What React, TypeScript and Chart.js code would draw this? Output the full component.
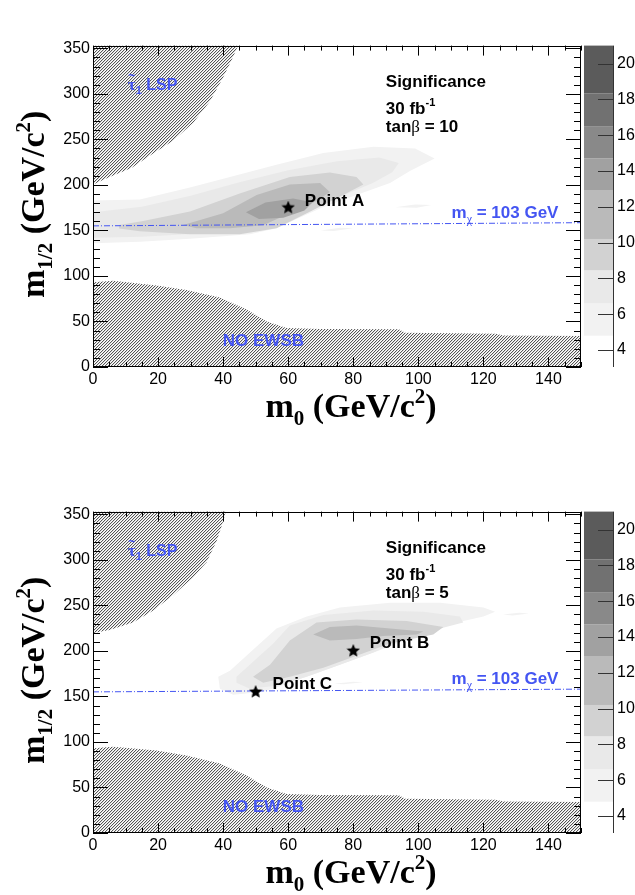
import React, { useEffect, useRef } from "react";
import { Chart, registerables } from "chart.js";

Chart.register(...registerables);

type Pt = [number, number];

// ---------- axes ----------
const m0Min = 0;
const m0Max = 150;
const m12Min = 0;
const m12Max = 353;
const zMin = 3.05;
const zMax = 21;
const m0LabelStep = 20;
const m0MinorStep = 5;
const m12LabelStep = 50;
const m12MinorStep = 10;
const zLabelStep = 2;

// ---------- significance colour scale ----------
const zLevels = [4.8, 6.6, 8.45, 10.2, 12.9, 14.7, 16.5, 18.33, 21];
const zColors = ["#f2f2f2", "#e9e9e9", "#d2d2d2", "#bababa", "#a1a1a1", "#898989", "#717171", "#5b5b5b"];

// ---------- panel 1 : tanβ = 10 ----------
const p1Sig1: Pt[] = [[0, 136], [14.4, 137.6], [29.8, 140.9], [48.2, 145.9], [56.4, 152.5], [62.6, 162.5], [70.8, 175.7], [81, 188.9], [91.3, 202.2], [97.4, 215.4], [105, 229], [99, 240], [86.2, 242], [70.8, 235], [56.4, 222], [42.1, 208.7], [29.8, 197.2], [14.4, 184], [0, 183]];
const p1Sig2: Pt[] = [[0, 142], [15, 143], [30, 146], [45, 149], [55, 156], [62, 166], [70, 178], [78, 190], [86, 202], [92, 214], [94, 224], [88, 230], [75, 226], [60, 216], [45, 203], [30, 188], [15, 176], [0, 170]];
const p1Sig3: Pt[] = [[8, 152], [14.4, 149.2], [29.8, 145.9], [45.1, 145.9], [56.4, 152.5], [65.7, 169], [76.9, 188.9], [83.1, 200.5], [81, 208.7], [72.8, 213.7], [60.5, 208.7], [45.1, 190.6], [29.8, 170.7], [15, 160], [8, 156]];
const p1Sig4: Pt[] = [[27.7, 156], [40, 169], [50.3, 188.9], [60.5, 200.5], [69.8, 202.2], [72.8, 192.2], [68.7, 182.3], [60.5, 169], [52.3, 155.8], [42.1, 152.5], [31.8, 152.5]];
const p1Sig5: Pt[] = [[47, 170], [53, 180.6], [61.5, 185], [67.5, 181], [65, 172], [58.5, 164], [51, 162.5]];
const p1FragA: Pt[] = [[93, 175.5], [99, 178.5], [104, 178], [99.5, 175]];
const p1FragB: Pt[] = [[70, 150], [76, 153], [80, 152.5], [74, 149.5]];
const p1Stau: Pt[] = [[0, 200.5], [5.1, 208.7], [11.8, 218.6], [17.4, 231.9], [24.6, 248.4], [30.8, 268.3], [35.9, 291.5], [40, 317.9], [43.1, 341], [44.6, 353], [0, 353]];
const p1Ewsb: Pt[] = [[0, 93], [6.2, 94.6], [19.5, 89.6], [28.7, 84.7], [39, 76.4], [47.2, 63.2], [53.4, 49.9], [59.5, 42.7], [69.8, 41.7], [94, 41.5], [96, 37.5], [124, 36.5], [126, 34.5], [150, 34], [150, 0], [0, 0]];
const p1Line: Pt[] = [[0, 155], [150, 158.5]];
const p1Stars: Pt[] = [[60, 175]];
const p1StarNames = ["Point A"];
const p1StarLabelAt: Pt[] = [[65.1, 183.7]];

// ---------- panel 2 : tanβ = 5 ----------
const p2Sig1: Pt[] = [[38.5, 171.7], [42.1, 178.3], [50.3, 204.7], [56.4, 224.6], [65.7, 237.9], [75.9, 247.8], [91.3, 252.8], [106.7, 252.8], [120, 247.8], [123.6, 242.9], [120, 237.9], [111.8, 231.2], [101.5, 221.3], [91.3, 204.7], [81, 191.5], [70.8, 178.3], [60.5, 165], [52.3, 155.1], [43.1, 151.8], [39, 158.5]];
const p2Sig2: Pt[] = [[44.1, 171.7], [55.4, 208.1], [60.5, 228], [70.8, 239.5], [86.2, 244.4], [101.5, 242.9], [112.8, 237.9], [113.8, 231.2], [106.7, 224.6], [96.4, 214.7], [86.2, 198.2], [75.9, 184.9], [65.7, 171.7], [56.4, 161.8], [48.2, 158.5], [44.1, 165]];
const p2Sig3: Pt[] = [[49.2, 171.7], [54.4, 184.9], [60.5, 211.4], [68.7, 231.2], [81, 234.5], [96.4, 232.9], [107.7, 226.3], [104.6, 218], [91.3, 208.1], [81, 194.8], [70.8, 181.6], [60.5, 171.7], [52.3, 165]];
const p2Sig4: Pt[] = [[67.7, 218], [72.8, 226.3], [81, 228], [91.3, 224.6], [101.5, 221.3], [99.5, 218], [89.2, 216.4], [81, 213.1], [72.8, 211.4]];
const p2FragA: Pt[] = [[126, 240], [131, 242], [134, 241], [129, 239]];
const p2FragB: Pt[] = [[74, 164], [80, 166], [83, 165.5], [77, 163.5]];
const p2Stau: Pt[] = [[0, 219.6], [5.1, 223], [12.3, 231.2], [18.5, 244.4], [24.6, 261], [30.8, 280.9], [34.9, 297.4], [38, 320.6], [40, 342], [40.8, 353], [0, 353]];
const p2Ewsb: Pt[] = [[0, 93], [6.2, 94.6], [19.5, 90.5], [28.7, 85], [39, 76.4], [47.2, 63.2], [53.4, 49.9], [59.5, 42.7], [69.8, 41.7], [94, 41.5], [96, 37.5], [124, 36.5], [126, 34.5], [150, 34], [150, 0], [0, 0]];
const p2Line: Pt[] = [[0, 155], [150, 158]];
const p2Stars: Pt[] = [[80, 200], [50, 155]];
const p2StarNames = ["Point B", "Point C"];
const p2StarLabelAt: Pt[] = [[85.1, 209.5], [55.2, 164.9]];

// ---------- text anchors (data coordinates: left edge, vertical centre) ----------
const infoM0 = 90;
const infoM12 = [314.3, 284.6, 264.7];
const lspAt: Pt = [10.7, 311];
const ewsbAt: Pt = [39.9, 30];
const mchiAt: Pt = [110.2, 170.5];

const SANS = '"Liberation Sans", Arial, Helvetica, sans-serif';
const SERIF = '"Liberation Serif", "Times New Roman", Times, serif';
const BLUE = "#4455f2";
const CANVAS_W = 635;
const CANVAS_H = 440;
const PANEL_OFFSET = 466;

interface PanelSpec {
  sig: Pt[][];
  frags: Pt[][];
  stau: Pt[];
  ewsb: Pt[];
  line: Pt[];
  stars: Pt[];
  starNames: string[];
  starLabelAt: Pt[];
  tanb: string;
}

const panels: PanelSpec[] = [
  { sig: [p1Sig1, p1Sig2, p1Sig3, p1Sig4, p1Sig5], frags: [p1FragA, p1FragB], stau: p1Stau, ewsb: p1Ewsb, line: p1Line, stars: p1Stars, starNames: p1StarNames, starLabelAt: p1StarLabelAt, tanb: "10" },
  { sig: [p2Sig1, p2Sig2, p2Sig3, p2Sig4], frags: [p2FragA, p2FragB], stau: p2Stau, ewsb: p2Ewsb, line: p2Line, stars: p2Stars, starNames: p2StarNames, starLabelAt: p2StarLabelAt, tanb: "5" },
];

type Seg = { t: string; f: string; dy?: number };

function drawRich(ctx: CanvasRenderingContext2D, segs: Seg[], x: number, y: number, align: "left" | "center") {
  let w = 0;
  for (const s of segs) {
    ctx.font = s.f;
    w += ctx.measureText(s.t).width;
  }
  let cx = align === "center" ? x - w / 2 : x;
  ctx.textAlign = "left";
  ctx.textBaseline = "alphabetic";
  for (const s of segs) {
    ctx.font = s.f;
    ctx.fillText(s.t, cx, y + (s.dy || 0));
    cx += ctx.measureText(s.t).width;
  }
}

function makeHatch(): CanvasPattern | string {
  const c = document.createElement("canvas");
  c.width = 3;
  c.height = 3;
  const g = c.getContext("2d");
  if (!g) return "#bbb";
  g.fillStyle = "#ffffff";
  g.fillRect(0, 0, 3, 3);
  for (let i = 0; i < 3; i++) {
    g.fillStyle = "#555555";
    g.fillRect(i, 2 - i, 1, 1);
    g.fillStyle = "#dcdcdc";
    g.fillRect((i + 1) % 3, 2 - i, 1, 1);
  }
  return g.createPattern(c, "repeat") || "#bbb";
}

function makeStar(): HTMLCanvasElement {
  const c = document.createElement("canvas");
  c.width = 14;
  c.height = 14;
  const g = c.getContext("2d")!;
  g.fillStyle = "#000";
  g.beginPath();
  for (let i = 0; i < 10; i++) {
    const r = i % 2 === 0 ? 7 : 3.2;
    const a = -Math.PI / 2 + (i * Math.PI) / 5;
    const x = 7 + r * Math.cos(a);
    const y = 7 + r * Math.sin(a);
    if (i === 0) g.moveTo(x, y);
    else g.lineTo(x, y);
  }
  g.closePath();
  g.fill();
  return c;
}

const toXY = (pts: Pt[]) => pts.map(([x, y]) => ({ x, y }));

function polygonDataset(pts: Pt[], color: any, order: number) {
  return {
    data: toXY(pts),
    borderColor: "rgba(0,0,0,0)",
    borderWidth: 0,
    backgroundColor: color,
    fill: "shape",
    pointRadius: 0,
    clip: false,
    order,
  };
}

function buildConfig(spec: PanelSpec): any {
  const hatch = makeHatch();
  const star = makeStar();
  const datasets: any[] = [];
  datasets.push({
    data: toXY(spec.stars),
    showLine: false,
    pointStyle: star,
    pointRadius: 7,
    fill: false,
    order: 0,
  });
  datasets.push({
    data: toXY(spec.line),
    borderColor: BLUE,
    borderWidth: 1,
    borderDash: [6, 2, 1, 2],
    pointRadius: 0,
    fill: false,
    order: 1,
  });
  datasets.push(polygonDataset(spec.stau, hatch, 2));
  datasets.push(polygonDataset(spec.ewsb, hatch, 2));
  spec.sig.forEach((poly, i) => datasets.push(polygonDataset(poly, zColors[i], 20 - i)));
  spec.frags.forEach((poly) => datasets.push(polygonDataset(poly, zColors[0], 20)));

  const tickFont = { family: SANS, size: 16 };

  const decor = {
    id: "decor",
    afterDatasetsDraw(chart: any) {
      const ctx: CanvasRenderingContext2D = chart.ctx;
      const xs = chart.scales.x;
      const ys = chart.scales.y;
      const zs = chart.scales.z;
      const { left, right, top, bottom } = chart.chartArea;
      const X = (v: number) => xs.getPixelForValue(v);
      const Y = (v: number) => ys.getPixelForValue(v);
      ctx.save();
      ctx.strokeStyle = "#000";
      ctx.lineWidth = 1;
      ctx.beginPath();
      for (let v = m0Min; v <= m0Max; v += m0MinorStep) {
        const px = Math.round(X(v)) + 0.5;
        const len = v % m0LabelStep === 0 ? 10 : 5;
        ctx.moveTo(px, bottom);
        ctx.lineTo(px, bottom - len);
        ctx.moveTo(px, top);
        ctx.lineTo(px, top + len);
      }
      for (let v = m12Min; v <= m12Max; v += m12MinorStep) {
        const py = Math.round(Y(v)) + 0.5;
        const len = v % m12LabelStep === 0 ? 15 : 7;
        ctx.moveTo(left, py);
        ctx.lineTo(left + len, py);
        ctx.moveTo(right, py);
        ctx.lineTo(right - len, py);
      }
      ctx.stroke();
      ctx.strokeRect(Math.round(left) + 0.5, Math.round(top) + 0.5, Math.round(right - left) - 1, Math.round(bottom - top) - 1);

      // colour bar
      const cbL = Math.round(right) + 3;
      const cbR = Math.round(right) + 32;
      for (let i = 0; i < zColors.length; i++) {
        const y1 = zs.getPixelForValue(zLevels[i]);
        const y2 = zs.getPixelForValue(Math.min(zLevels[i + 1], zMax));
        ctx.fillStyle = zColors[i];
        ctx.fillRect(cbL, y2, cbR - cbL, y1 - y2);
      }
      ctx.strokeStyle = "#333";
      ctx.beginPath();
      ctx.moveTo(cbR + 0.5, zs.top);
      ctx.lineTo(cbR + 0.5, zs.bottom);
      for (const t of zs.ticks) {
        const py = Math.round(zs.getPixelForValue(t.value)) + 0.5;
        ctx.moveTo(cbR - 15, py);
        ctx.lineTo(cbR, py);
      }
      ctx.stroke();

      // annotations
      const B17 = `bold 17px ${SANS}`;
      const B16 = `bold 16px ${SANS}`;
      const B11 = `bold 11px ${SANS}`;
      ctx.fillStyle = "#000";
      drawRich(ctx, [{ t: "Significance", f: B17 }], X(infoM0), Y(infoM12[0]) + 6, "left");
      drawRich(ctx, [{ t: "30 fb", f: B17 }, { t: "-1", f: B11, dy: -8 }], X(infoM0), Y(infoM12[1]) + 6, "left");
      drawRich(ctx, [{ t: "tan", f: B17 }, { t: "β", f: `17px ${SERIF}` }, { t: " = " + spec.tanb, f: B17 }], X(infoM0), Y(infoM12[2]) + 6, "left");
      spec.starNames.forEach((name, i) => {
        const [a, b] = spec.starLabelAt[i];
        drawRich(ctx, [{ t: name, f: B17 }], X(a), Y(b) + 6, "left");
      });
      ctx.fillStyle = BLUE;
      drawRich(ctx, [{ t: "m", f: B17 }, { t: "χ", f: `12px ${SERIF}`, dy: 5 }, { t: " = 103 GeV", f: B17 }], X(mchiAt[0]), Y(mchiAt[1]) + 6, "left");
      drawRich(ctx, [{ t: "NO EWSB", f: B17 }], X(ewsbAt[0]), Y(ewsbAt[1]) + 6, "left");
      const lx = X(lspAt[0]);
      const ly = Y(lspAt[1]) + 6;
      drawRich(ctx, [{ t: "τ", f: `bold 17px ${SERIF}` }, { t: "1", f: B11, dy: 4 }, { t: " LSP", f: B16 }], lx, ly, "left");
      drawRich(ctx, [{ t: "~", f: `bold 12px ${SANS}` }], lx + 0.5, ly - 10, "left");
      ctx.restore();
    },
    afterDraw(chart: any) {
      const ctx: CanvasRenderingContext2D = chart.ctx;
      const { left, right, top, bottom } = chart.chartArea;
      ctx.save();
      ctx.fillStyle = "#000";
      const T = `bold 34px ${SERIF}`;
      const S = `bold 21px ${SERIF}`;
      drawRich(
        ctx,
        [{ t: "m", f: T }, { t: "0", f: S, dy: 8 }, { t: " (GeV/c", f: T }, { t: "2", f: S, dy: -14 }, { t: ")", f: T }],
        (left + right) / 2 + 14,
        bottom + 50,
        "center"
      );
      ctx.translate(left - 49, (top + bottom) / 2 - 2);
      ctx.rotate(-Math.PI / 2);
      drawRich(
        ctx,
        [{ t: "m", f: T }, { t: "1/2", f: S, dy: 8 }, { t: " (GeV/c", f: T }, { t: "2", f: S, dy: -14 }, { t: ")", f: T }],
        0,
        0,
        "center"
      );
      ctx.restore();
    },
  };

  return {
    type: "line",
    data: { datasets },
    plugins: [decor],
    options: {
      responsive: false,
      animation: false,
      events: [],
      layout: { padding: { top: 11, left: 0, right: 0, bottom: 0 } },
      plugins: { legend: { display: false }, tooltip: { enabled: false } },
      scales: {
        x: {
          type: "linear",
          position: "bottom",
          min: m0Min,
          max: m0Max,
          grid: { display: false, drawTicks: false },
          border: { display: false },
          ticks: { stepSize: m0LabelStep, includeBounds: false, autoSkip: false, maxRotation: 0, padding: 3, color: "#000", font: tickFont },
          afterFit: (s: any) => {
            s.height = CANVAS_H - 367;
          },
        },
        y: {
          type: "linear",
          position: "left",
          min: m12Min,
          max: m12Max,
          grid: { display: false, drawTicks: false },
          border: { display: false },
          ticks: { stepSize: m12LabelStep, includeBounds: false, autoSkip: false, padding: 3, color: "#000", font: tickFont },
          afterFit: (s: any) => {
            s.width = 93;
          },
        },
        z: {
          type: "linear",
          axis: "y",
          position: "right",
          min: zMin,
          max: zMax,
          grid: { display: false, drawTicks: false },
          border: { display: false },
          ticks: { stepSize: zLabelStep, includeBounds: false, autoSkip: false, padding: 36, color: "#000", font: tickFont },
          afterFit: (s: any) => {
            s.width = 54;
          },
        },
      },
    },
  };
}

function Panel({ spec, top }: { spec: PanelSpec; top: number }) {
  const ref = useRef<HTMLCanvasElement>(null);
  useEffect(() => {
    if (!ref.current) return;
    const chart = new Chart(ref.current, buildConfig(spec));
    return () => chart.destroy();
  }, [spec]);
  return (
    <canvas
      ref={ref}
      width={CANVAS_W}
      height={CANVAS_H}
      style={{ position: "absolute", left: 0, top, width: CANVAS_W, height: CANVAS_H }}
    />
  );
}

export default function App() {
  return (
    <div style={{ position: "absolute", left: 0, top: 0, width: 635, height: 895, overflow: "hidden", background: "#fff" }}>
      {panels.map((p, i) => (
        <Panel key={i} spec={p} top={i * PANEL_OFFSET} />
      ))}
    </div>
  );
}
